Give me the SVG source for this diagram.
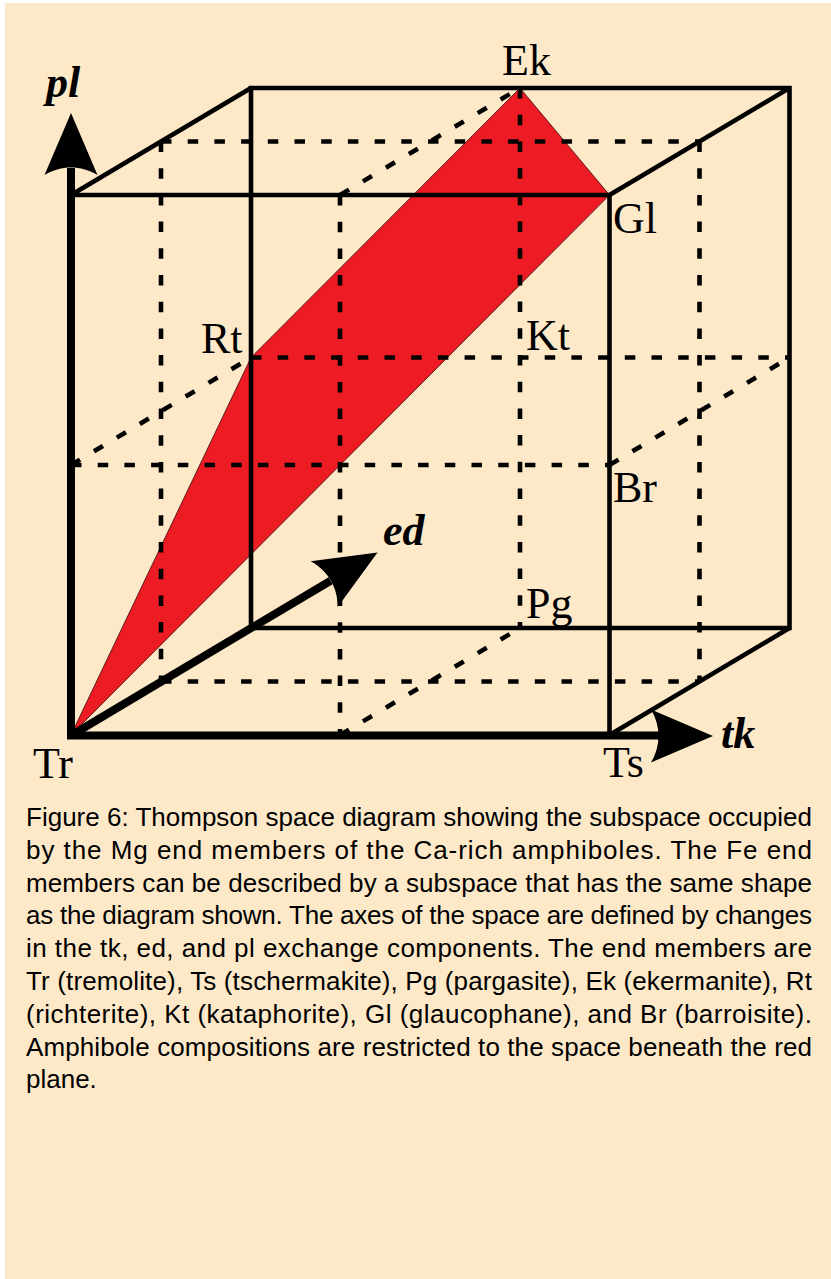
<svg xmlns="http://www.w3.org/2000/svg" width="831" height="1279" viewBox="0 0 831 1279">
<style>
.bg{fill:#FDE9C8}
.solid{fill:none;stroke:#000;stroke-width:4.6;stroke-linecap:butt}
.dash{fill:none;stroke:#000;stroke-width:4.6;stroke-dasharray:10.5 16.2}
.axis{fill:none;stroke:#000;stroke-width:8;stroke-linejoin:miter}
.plane{fill:#ED1C24;stroke:#3a0a0a;stroke-width:0.8}
.lbl{font-family:"Liberation Serif","Times New Roman",serif;font-size:44px;fill:#000}
.ax{font-family:"Liberation Serif","Times New Roman",serif;font-size:44px;font-weight:bold;font-style:italic;fill:#000}
.cap{font-family:"Liberation Sans",Arial,sans-serif;font-size:26px;fill:#000}
</style>
<defs>
<path id="ah" d="M0,0 L-62,-26.5 C-52,-10 -52,10 -62,26.5 Z" fill="#000"/>
</defs>
<rect x="0" y="0" width="831" height="1279" fill="#fff"/>
<rect class="bg" x="5" y="3" width="826" height="1276"/>

<g id="red-plane">
<polygon class="plane" points="71,735 251,357.5 520,88 609.5,195"/>
</g>

<g id="connectors">
<path class="solid" d="M71,195 L609.5,195 L609.5,735"/>
<path class="solid" d="M251,88 L789.5,88 L789.5,628 L251,628 Z"/>
<path class="solid" d="M71,195 L251,88 M609.5,195 L789.5,88 M609.5,735 L789.5,628"/>
<path class="dash" d="M161,141.5 L699.5,141.5 M161,681.5 L699.5,681.5 M161,141.5 L161,681.5 M699.5,141.5 L699.5,681.5"/>
<path class="dash" d="M340,195 L340,735 M520,88 L520,628 M340,195 L520,88 M340,735 L520,628"/>
<path class="dash" d="M71,465 L609.5,465 M251,357.5 L789.5,357.5 M71,465 L251,357.5 M609.5,465 L789.5,357.5"/>
</g>

<g id="axes">
<path class="axis" d="M71,168 L71,735.5 L660,735.5"/>
<path class="axis" d="M71,735.5 L330.6,580.7"/>
<use href="#ah" transform="translate(71,113) rotate(-90)"/>
<use href="#ah" transform="translate(713,736)"/>
<use href="#ah" transform="translate(377.5,552.5) rotate(-30.7)"/>
</g>

<g id="axis-labels">
<text id="pl" class="ax" x="46" y="97">pl</text>
<text id="ed" class="ax" x="383" y="545">ed</text>
<text id="tk" class="ax" x="721" y="748">tk</text>
</g>

<g id="node-Tr"><text class="lbl" x="33" y="778">Tr</text></g>
<g id="node-Ts"><text class="lbl" x="603" y="777">Ts</text></g>
<g id="node-Pg"><text class="lbl" x="526" y="618">Pg</text></g>
<g id="node-Ek"><text class="lbl" x="502" y="75">Ek</text></g>
<g id="node-Gl"><text class="lbl" x="613" y="233">Gl</text></g>
<g id="node-Rt"><text class="lbl" x="201" y="353">Rt</text></g>
<g id="node-Kt"><text class="lbl" x="526" y="350">Kt</text></g>
<g id="node-Br"><text class="lbl" x="613" y="502">Br</text></g>

<g id="caption" class="cap">
<text x="26" y="826" textLength="786" lengthAdjust="spacing">Figure 6: Thompson space diagram showing the subspace occupied</text>
<text x="26" y="858.8" textLength="786" lengthAdjust="spacing">by the Mg end members of the Ca-rich amphiboles. The Fe end</text>
<text x="26" y="891.6" textLength="786" lengthAdjust="spacing">members can be described by a subspace that has the same shape</text>
<text x="26" y="924.4" textLength="786" lengthAdjust="spacing">as the diagram shown. The axes of the space are defined by changes</text>
<text x="26" y="957.2" textLength="786" lengthAdjust="spacing">in the tk, ed, and pl exchange components. The end members are</text>
<text x="26" y="990" textLength="786" lengthAdjust="spacing">Tr (tremolite), Ts (tschermakite), Pg (pargasite), Ek (ekermanite), Rt</text>
<text x="26" y="1022.8" textLength="786" lengthAdjust="spacing">(richterite), Kt (kataphorite), Gl (glaucophane), and Br (barroisite).</text>
<text x="26" y="1055.6" textLength="786" lengthAdjust="spacing">Amphibole compositions are restricted to the space beneath the red</text>
<text x="26" y="1088.4">plane.</text>
</g>
</svg>
